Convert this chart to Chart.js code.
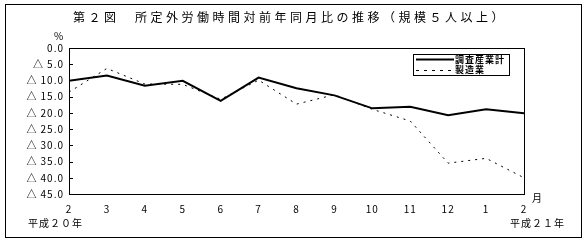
<!DOCTYPE html>
<html>
<head>
<meta charset="utf-8">
<script src="https://cdn.jsdelivr.net/npm/chart.js@4/dist/chart.umd.min.js"></script>
<style>
  body { margin: 0; background: #fff; }
  canvas { display: block; }
</style>
</head>
<body>
<canvas id="chart" width="586" height="243"></canvas>
<script>
const title = '第２図　所定外労働時間対前年同月比の推移（規模５人以上）';
const months = ['2', '3', '4', '5', '6', '7', '8', '9', '10', '11', '12', '1', '2'];
const seriesNames = ['調査産業計', '製造業'];
const allIndustries = [-10.1, -8.5, -11.6, -10.1, -16.3, -9.1, -12.4, -14.6, -18.6, -18.1, -20.7, -18.9, -20.1];
const manufacturing = [-13.6, -6.3, -11.1, -11.2, -15.8, -9.9, -17.3, -14.4, -18.9, -22.5, -35.5, -34.0, -40.0];
const yTicks = [0, -5, -10, -15, -20, -25, -30, -35, -40, -45];
const startYear = '平成２０年';
const endYear = '平成２１年';
const font = '"Noto Sans CJK JP", sans-serif';

// white page, outer frame and letter spacing for tick labels
const pagePlugin = {
    id: 'page',
    beforeDraw(chart) {
        const ctx = chart.ctx;
        ctx.save();
        ctx.fillStyle = '#fff';
        ctx.fillRect(0, 0, chart.width, chart.height);
        ctx.restore();
        ctx.letterSpacing = '1px';
    },
    afterDraw(chart) {
        const ctx = chart.ctx;
        const a = chart.chartArea;
        const y = chart.scales.y;
        ctx.save();
        ctx.strokeStyle = '#000';
        ctx.lineWidth = 1;
        ctx.strokeRect(5.5, 4.5, 576, 233);
        ctx.strokeRect(Math.round(a.left) + 0.5, Math.round(a.top) + 0.5, Math.round(a.right - a.left), Math.round(a.bottom - a.top));
        // inward ticks on the value axis
        ctx.beginPath();
        yTicks.forEach(v => {
            const py = Math.round(y.getPixelForValue(v)) + 0.5;
            ctx.moveTo(a.left, py);
            ctx.lineTo(a.left + 4, py);
        });
        ctx.stroke();

        ctx.fillStyle = '#000';
        ctx.textBaseline = 'middle';
        ctx.letterSpacing = '3.5px';
        ctx.font = '12px ' + font;
        ctx.textAlign = 'center';
        ctx.fillText(title, 290, 17);

        ctx.letterSpacing = '1px';
        ctx.font = '10px ' + font;
        ctx.textAlign = 'left';
        ctx.fillText('%', 54, 36);
        ctx.fillText('月', 532, 198);
        ctx.fillText(startYear, 28, 223);
        ctx.fillText(endYear, 510, 223);

        // legend box
        ctx.strokeRect(413.5, 54.5, 96, 21);
        ctx.lineWidth = 2;
        ctx.beginPath();
        ctx.moveTo(416, 59.5);
        ctx.lineTo(454, 59.5);
        ctx.stroke();
        ctx.lineWidth = 1;
        ctx.setLineDash([3, 5]);
        ctx.beginPath();
        ctx.moveTo(416, 70.5);
        ctx.lineTo(452, 70.5);
        ctx.stroke();
        ctx.setLineDash([]);
        ctx.font = 'bold 9px ' + font;
        ctx.fillText(seriesNames[0], 455, 60);
        ctx.fillText(seriesNames[1], 455, 70);
        ctx.restore();
    }
};

const config = {
    type: 'line',
    data: {
        labels: months,
        datasets: [
            {label: seriesNames[0], data: allIndustries, borderColor: '#000', borderWidth: 2, pointRadius: 0, tension: 0},
            {label: seriesNames[1], data: manufacturing, borderColor: '#000', borderWidth: 1, borderDash: [2, 5], pointRadius: 0, tension: 0}
        ]
    },
    options: {
        responsive: false,
        animation: false,
        events: [],
        layout: {padding: {left: 0, right: 62, top: 48, bottom: 0}},
        plugins: {legend: {display: false}, title: {display: false}, tooltip: {enabled: false}},
        scales: {
            x: {
                offset: false,
                grid: {display: false, drawTicks: false},
                border: {display: false},
                ticks: {color: '#000', font: {family: font, size: 10}, padding: 9, maxRotation: 0, autoSkip: false},
                afterFit(scale) { scale.height = 49; }
            },
            y: {
                min: -45,
                max: 0,
                grid: {display: false, drawTicks: false},
                border: {display: false},
                afterBuildTicks(scale) { scale.ticks = yTicks.map(v => ({value: v})); },
                ticks: {
                    color: '#000',
                    font: {family: font, size: 10},
                    padding: 5,
                    callback: v => v === 0 ? '0.0' : '△\u2009' + Math.abs(v).toFixed(1)
                },
                afterFit(scale) { scale.width = 69; }
            }
        }
    },
    plugins: [pagePlugin]
};

new Chart(document.getElementById('chart'), config);
</script>
</body>
</html>
